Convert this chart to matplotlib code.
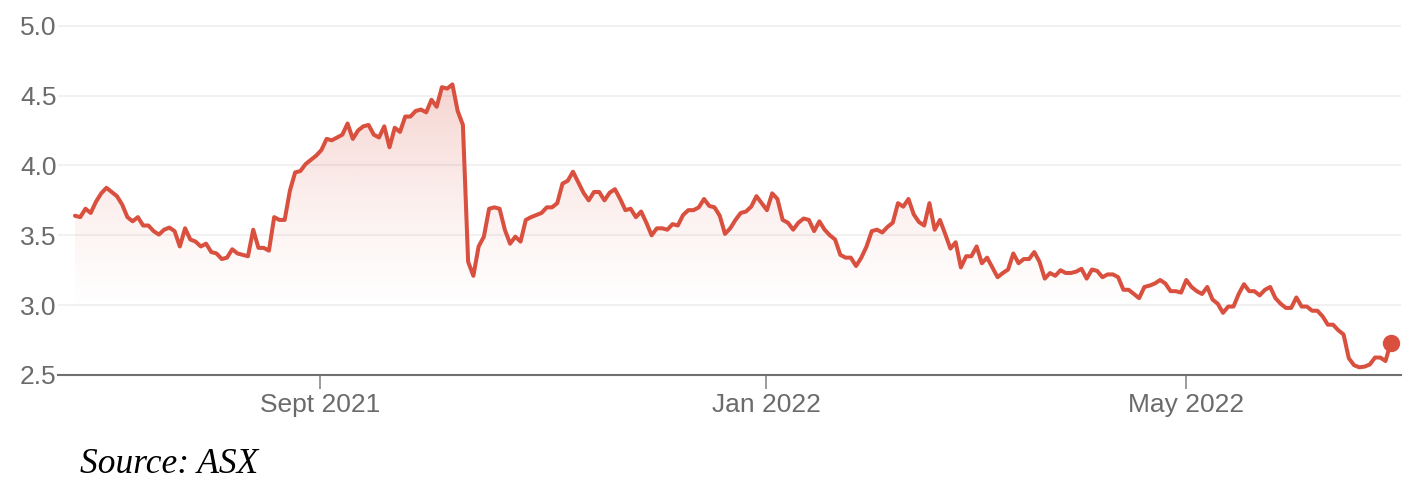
import matplotlib
matplotlib.use("Agg")
import matplotlib.pyplot as plt
import numpy as np
from matplotlib.colors import to_rgb

# Closing price per trading day (index 0 = first trading day shown)
price = [
    3.64, 3.63, 3.69, 3.66, 3.74, 3.80, 3.84, 3.81, 3.78, 3.72,
    3.63, 3.60, 3.63, 3.57, 3.57, 3.53, 3.505, 3.54, 3.555, 3.53,
    3.42, 3.55, 3.47, 3.455, 3.42, 3.44, 3.38, 3.37, 3.33, 3.34,
    3.40, 3.37, 3.36, 3.35, 3.54, 3.41, 3.41, 3.39, 3.63, 3.61,
    3.61, 3.82, 3.95, 3.96, 4.01, 4.04, 4.07, 4.11, 4.19, 4.18,
    4.20, 4.22, 4.30, 4.19, 4.25, 4.28, 4.29, 4.22, 4.20, 4.28,
    4.13, 4.27, 4.24, 4.35, 4.35, 4.39, 4.40, 4.38, 4.47, 4.42,
    4.56, 4.55, 4.58, 4.39, 4.29, 3.31, 3.21, 3.42, 3.49, 3.69,
    3.70, 3.69, 3.54, 3.44, 3.49, 3.455, 3.61, 3.63, 3.645, 3.66,
    3.70, 3.70, 3.73, 3.87, 3.89, 3.955, 3.88, 3.805, 3.75, 3.81,
    3.81, 3.75, 3.805, 3.83, 3.76, 3.68, 3.69, 3.63, 3.67, 3.59,
    3.50, 3.55, 3.55, 3.54, 3.58, 3.57, 3.645, 3.68, 3.68, 3.70,
    3.76, 3.71, 3.70, 3.64, 3.51, 3.55, 3.61, 3.66, 3.67, 3.705,
    3.78, 3.73, 3.68, 3.80, 3.76, 3.61, 3.59, 3.54, 3.59, 3.62,
    3.61, 3.53, 3.60, 3.54, 3.50, 3.47, 3.36, 3.34, 3.34, 3.28,
    3.34, 3.42, 3.53, 3.54, 3.52, 3.56, 3.59, 3.73, 3.705, 3.76,
    3.65, 3.595, 3.57, 3.73, 3.54, 3.61, 3.51, 3.405, 3.45, 3.27,
    3.35, 3.35, 3.42, 3.30, 3.34, 3.27, 3.20, 3.23, 3.255, 3.37,
    3.30, 3.33, 3.33, 3.38, 3.31, 3.19, 3.23, 3.21, 3.25, 3.23,
    3.23, 3.24, 3.26, 3.19, 3.255, 3.245, 3.20, 3.22, 3.22, 3.20,
    3.11, 3.11, 3.08, 3.05, 3.13, 3.14, 3.155, 3.18, 3.155, 3.10,
    3.10, 3.09, 3.18, 3.13, 3.10, 3.08, 3.13, 3.04, 3.01, 2.945,
    2.99, 2.99, 3.08, 3.15, 3.10, 3.10, 3.07, 3.11, 3.13, 3.05,
    3.01, 2.98, 2.98, 3.055, 2.99, 2.99, 2.96, 2.96, 2.92, 2.86,
    2.86, 2.82, 2.79, 2.62, 2.57, 2.555, 2.56, 2.575, 2.625, 2.625,
    2.60, 2.73,
]
day = list(range(len(price)))

tick_days = [46.7, 131.9, 211.9]
tick_labels = ["Sept 2021", "Jan 2022", "May 2022"]
y_ticks = [2.5, 3.0, 3.5, 4.0, 4.5, 5.0]
y_labels = ["2.5", "3.0", "3.5", "4.0", "4.5", "5.0"]

LINE = "#d9503f"
TEXT = "#6b6b6b"

fig = plt.figure(figsize=(14.26, 4.82), dpi=100)
ax = fig.add_axes([58 / 1426, 1 - 375 / 482, (1400.7 - 58) / 1426, (375 - 20) / 482])

xmin, xmax = -3.24, 252.9
ymin, ymax = 2.5, 5.041
ax.set_xlim(xmin, xmax)
ax.set_ylim(ymin, ymax)

# gradient fill under the line
fill = ax.fill_between(day, price, ymin, facecolor="none", edgecolor="none")
ys = np.linspace(ymin, ymax, 400)
t = np.clip((ys - 2.9) / (4.6 - 2.9), 0, 1)
alpha = 0.25 * t ** 1.4
rgb = to_rgb(LINE)
grad = np.zeros((len(ys), 2, 4))
grad[..., 0], grad[..., 1], grad[..., 2] = rgb
grad[..., 3] = alpha[:, None]
img = ax.imshow(grad, extent=[xmin, xmax, ymin, ymax], origin="lower",
                aspect="auto", zorder=1, interpolation="bilinear")
img.set_clip_path(fill.get_paths()[0], transform=ax.transData)

ax.plot(day, price, color=LINE, lw=2.9, solid_joinstyle="round",
        solid_capstyle="round", zorder=3)
ax.plot(day[-1], price[-1], "o", color=LINE, ms=11.5, zorder=4)

# grid & axes
for v in y_ticks[1:]:
    ax.axhline(v, color="#eeeeee", lw=1.1, zorder=0.5)
for s in ["top", "right", "left"]:
    ax.spines[s].set_visible(False)
ax.spines["bottom"].set_color("#707070")
ax.spines["bottom"].set_linewidth(1.5)
ax.spines["bottom"].set_zorder(5)

ax.set_xticks(tick_days)
ax.set_xticklabels(tick_labels, fontfamily="Liberation Sans", fontsize=19, color=TEXT)
ax.set_yticks(y_ticks)
ax.set_yticklabels(y_labels, fontfamily="Liberation Sans", fontsize=19, color=TEXT)
ax.tick_params(axis="x", length=10, width=1.1, color="#808080", pad=3)
ax.tick_params(axis="y", length=0, pad=1)

fig.text(80 / 1426, 1 - 473 / 482, "Source: ASX", fontfamily="Liberation Serif",
         fontstyle="italic", fontsize=25.5, color="black", va="baseline", ha="left")

fig.savefig("out.png", dpi=100)
